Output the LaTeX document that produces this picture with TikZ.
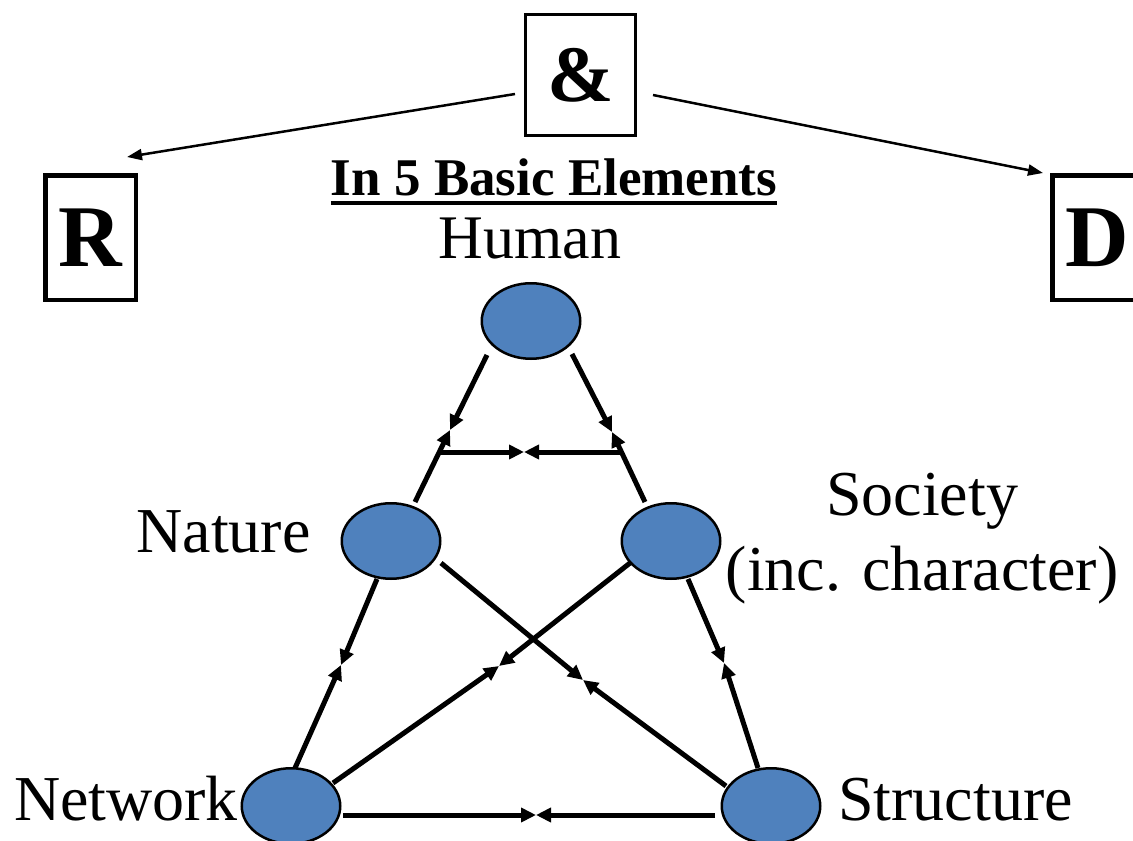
\documentclass[tikz,border=0pt]{standalone}
\usepackage{fontspec}
\setmainfont{Liberation Serif}
\usetikzlibrary{arrows.meta,shapes.geometric}
\definecolor{ellblue}{HTML}{4F81BD}
\begin{document}
\begin{tikzpicture}[x=1pt,y=-1pt,
  every node/.style={inner sep=0pt, outer sep=0pt},
  letterbox/.style={draw, line width=4.5pt, minimum width=90.5pt, minimum height=124.5pt, font=\fontsize{88}{92}\selectfont\bfseries},
  ampbox/.style={draw, line width=3pt, minimum width=110pt, minimum height=121pt, font=\fontsize{80}{84}\selectfont\bfseries},
  elem/.style={ellipse, draw, line width=2.5pt, fill=ellblue, minimum width=98.5pt, minimum height=75.5pt},
  lbl/.style={font=\fontsize{64}{75}\selectfont, anchor=base},
  thk/.style={line width=5pt, -{Triangle[length=15pt,width=14pt]}},
  thn/.style={line width=2.5pt, -{Triangle[length=15pt,width=11pt]}}
]
\useasboundingbox (0,0) rectangle (1133,841);
\clip (0,0) rectangle (1133,841);
\fill[white] (0,0) rectangle (1133,841);

% top boxes
\node[ampbox] (amp) at (580.5,75) {\&};
\node[letterbox] (R) at (90.5,237.5) {R};
\node[letterbox] (D) at (1097.5,237.5) {D};

\draw[thn] ([shift={(-65.5,19)}]amp.center) -- ([shift={(36.5,-80.5)}]R.center);
\draw[thn] ([shift={(72.5,20)}]amp.center) -- ([shift={(-54.5,-64.5)}]D.center);

% title
\node[anchor=base, font=\fontsize{53}{60}\selectfont\bfseries] (title) at (554,195) {In 5 Basic Elements};
\draw[line width=4pt] ([yshift=-8pt]title.base west) -- ([yshift=-8pt]title.base east);

% elements
\node[elem] (H) at (531,321) {};
\node[elem] (N) at (391,541) {};
\node[elem] (S) at (671,541) {};
\node[elem] (W) at (291,806) {};
\node[elem] (T) at (771,806) {};

% labels
\node[lbl, font=\fontsize{62}{75}\selectfont] (lH) at (530,258) {Human};
\node[lbl] (lN) at (223.5,552) {Nature};
\node[lbl, align=center, anchor=base] (lS) at (922,590) {Society\\(inc. character)};
\node[lbl] (lW) at (126,820) {Network};
\node[lbl] (lT) at (955.5,820) {Structure};

% meeting points
\coordinate (mHN) at (450,430);
\coordinate (mHS) at (612,432);
\coordinate (hl) at (439.5,452);
\coordinate (hr) at (620,452);
\coordinate (mHH) at (524,452);
\coordinate (mNW) at (341,665);
\coordinate (mSW) at (499,666);
\coordinate (mNT) at (583,680);
\coordinate (mST) at (724,663);
\coordinate (mWT) at (536,815);

% connectors
\draw[thk] ([shift={(-44,34)}]H.center) -- (mHN);
\draw[thk] ([shift={(24,-39)}]N.center) -- (mHN);
\draw[thk] ([shift={(41,33)}]H.center) -- (mHS);
\draw[thk] ([shift={(-26,-39)}]S.center) -- (mHS);
\draw[thk] (hl) -- (mHH);
\draw[thk] (hr) -- (mHH);

\draw[thk] ([shift={(-14,38)}]N.center) -- (mNW);
\draw[thk] ([shift={(4,-38)}]W.center) -- (mNW);
\draw[thk] ([shift={(-41,22)}]S.center) -- (mSW);
\draw[thk] ([shift={(42,-23)}]W.center) -- (mSW);
\draw[thk] ([shift={(50,22)}]N.center) -- (mNT);
\draw[thk] ([shift={(-45,-20)}]T.center) -- (mNT);
\draw[thk] ([shift={(17,38)}]S.center) -- (mST);
\draw[thk] ([shift={(-13,-38)}]T.center) -- (mST);
\draw[thk] ([shift={(52,9)}]W.center) -- (mWT);
\draw[thk] ([shift={(-56,9)}]T.center) -- (mWT);
\end{tikzpicture}
\end{document}
